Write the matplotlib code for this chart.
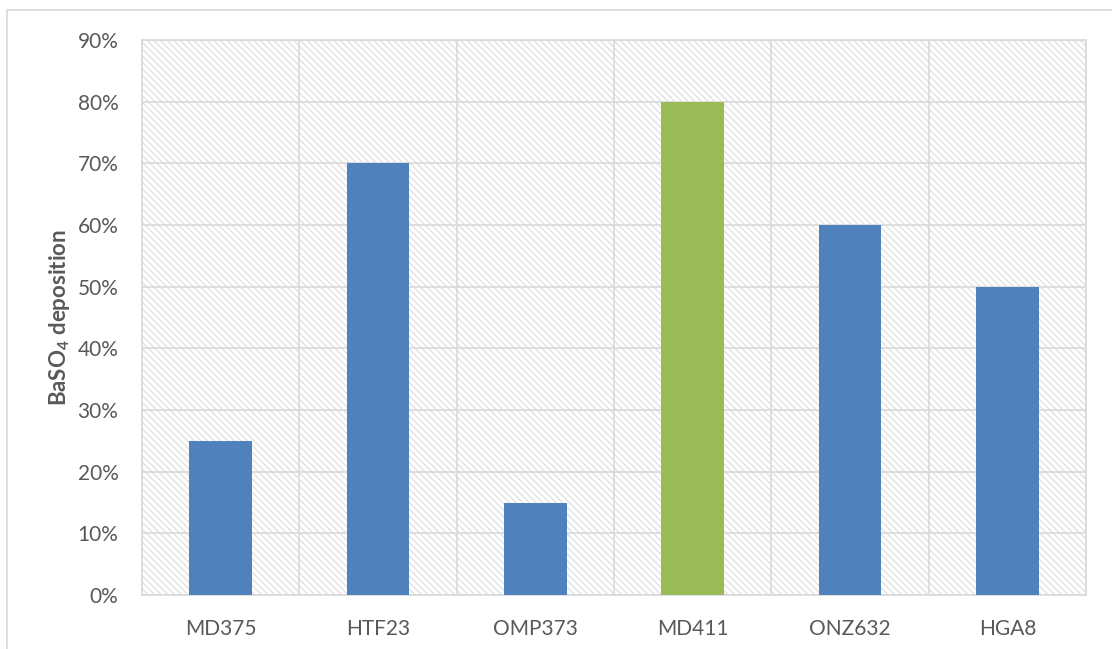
import matplotlib
matplotlib.use("Agg")
import matplotlib.pyplot as plt
from matplotlib.patches import Rectangle
from matplotlib.ticker import PercentFormatter, FixedLocator

samples = ["MD375", "HTF23", "OMP373", "MD411", "ONZ632", "HGA8"]
deposition = [25, 70, 15, 80, 60, 50]
bar_colors = ["#4F81BD", "#4F81BD", "#4F81BD", "#9BBB59", "#4F81BD", "#4F81BD"]
y_ticks = [0, 10, 20, 30, 40, 50, 60, 70, 80, 90]

plt.rcParams["font.family"] = ["Lato", "DejaVu Sans"]
plt.rcParams["hatch.linewidth"] = 0.9

grey = "#D9D9D9"
text_grey = "#595959"

fig = plt.figure(figsize=(11.12, 6.49), dpi=100)
ax = fig.add_axes([142 / 1112, 1 - 595 / 649, (1086 - 142) / 1112, (595 - 40) / 649])

# outer chart frame (cut off at the right and bottom edges)
fig.patches.append(Rectangle((7 / 1112, -0.1), 1.2, 1 - 10 / 649 + 0.1,
                             transform=fig.transFigure, fill=False,
                             edgecolor=grey, linewidth=1.2))

# hatched plot area background
ax.add_patch(Rectangle((0, 0), 1, 1, transform=ax.transAxes, facecolor="white",
                       edgecolor="#DEDEDE", hatch="\\" * 5, linewidth=0, zorder=0))

x = range(len(samples))
ax.bar(x, deposition, width=0.4, color=bar_colors, zorder=3)

ax.set_xlim(-0.5, len(samples) - 0.5)
ax.set_ylim(0, 90)
ax.yaxis.set_major_locator(FixedLocator(y_ticks))
ax.yaxis.set_major_formatter(PercentFormatter(decimals=0))
ax.set_xticks(list(x))
ax.set_xticklabels(samples)
ax.xaxis.set_minor_locator(FixedLocator([i + 0.5 for i in range(-1, len(samples))]))

ax.grid(axis="y", which="major", color=grey, linewidth=1.2, zorder=1)
ax.grid(axis="x", which="minor", color=grey, linewidth=1.2, zorder=1)
ax.set_axisbelow(True)

for s in ax.spines.values():
    s.set_color(grey)
    s.set_linewidth(1.2)

ax.tick_params(axis="both", which="both", length=0, labelsize=15, labelcolor=text_grey)
ax.tick_params(axis="y", pad=17)
ax.tick_params(axis="x", pad=17)

ax.set_ylabel(r"BaSO$_\mathregular{4}$ deposition", fontsize=16, fontweight="bold",
              color=text_grey, labelpad=4)

fig.savefig("out.png", dpi=100)
